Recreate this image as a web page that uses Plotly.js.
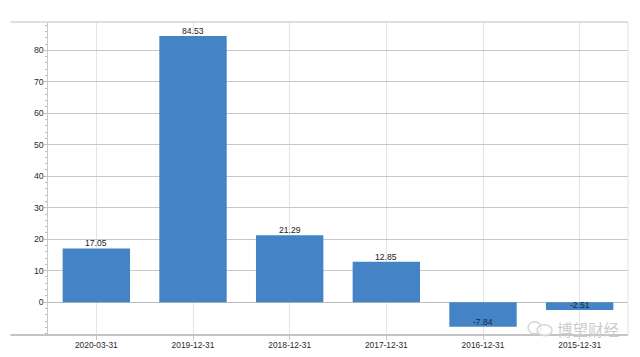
<!DOCTYPE html>
<html><head><meta charset="utf-8">
<script src="https://cdn.plot.ly/plotly-3.0.1.min.js"></script>
<style>html,body{margin:0;padding:0;background:#fff;overflow:hidden}</style></head>
<body><div id="c" style="width:640px;height:357px"></div>
<script>
const categories=['2020-03-31','2019-12-31','2018-12-31','2017-12-31','2016-12-31','2015-12-31'];
const values=[17.05,84.53,21.29,12.85,-7.84,-2.51];
const labels=['17.05','84.53','21.29','12.85','-7.84','-2.51'];
const yTicks=[0,10,20,30,40,50,60,70,80];
const W=640,H=357,L=47.6,R=628,T=22,B=335.3;
const px=x=>(x-L)/(R-L), py=y=>(B-y)/(B-T);
const FONT='Liberation Sans, Arial, sans-serif';
const shapes=[
 {type:'line',xref:'paper',yref:'paper',x0:px(10),x1:1,y0:1,y1:1,line:{color:'#d4d4d4',width:1.5}},
 {type:'line',xref:'paper',yref:'paper',x0:px(10),x1:1,y0:0,y1:0,line:{color:'#c4c4c4',width:2}},
 {type:'line',xref:'paper',yref:'paper',x0:1,x1:1,y0:0,y1:1,line:{color:'#e2e2e2',width:1}},
 {type:'circle',xref:'paper',yref:'paper',x0:px(528),x1:px(541),y0:py(334),y1:py(322),line:{color:'#d6d6d6',width:1.5},fillcolor:'rgba(255,255,255,0.6)'},
 {type:'circle',xref:'paper',yref:'paper',x0:px(537),x1:px(552),y0:py(336),y1:py(325),line:{color:'#d6d6d6',width:1.5},fillcolor:'rgba(255,255,255,0.6)'}
];
const valueNotes=categories.map((c,i)=>({xref:'x',yref:'y',x:c,y:values[i],text:labels[i],showarrow:false,
 xanchor:'center',yanchor:'bottom',yshift:-1,borderpad:0,
 font:{family:FONT,size:8.6,color:values[i]<0?'#14273f':'#222'}}));
Plotly.newPlot('c',[{
 type:'bar',x:categories,y:values,width:0.697,
 marker:{color:'#4484c6',line:{width:0}},hoverinfo:'skip'
}],{
 width:W,height:H,showlegend:false,
 paper_bgcolor:'#fff',plot_bgcolor:'#fff',
 margin:{l:L,r:W-R,t:T,b:H-B,pad:0},
 font:{family:FONT,size:9,color:'#333'},
 xaxis:{type:'category',categoryorder:'array',categoryarray:categories,range:[-0.5,5.5],
  showgrid:true,gridcolor:'#e4e4e4',gridwidth:1,
  ticks:'outside',ticklen:4,tickcolor:'#c8c8c8',showline:false,zeroline:false,
  tickfont:{size:8.4,color:'#2b2b2b'},ticklabelstandoff:-2},
 yaxis:{range:[-10.44,89],tickmode:'array',tickvals:yTicks,showgrid:true,gridcolor:'#c8c8c8',gridwidth:1,
  ticks:'outside',ticklen:3,tickcolor:'#bdbdbd',ticklabelstandoff:-2,
  showline:true,linecolor:'#c8c8c8',linewidth:1.5,zeroline:true,zerolinecolor:'#bdbdbd',zerolinewidth:1,
  minor:{dtick:2,tick0:0,ticks:'outside',ticklen:2,tickcolor:'#bdbdbd',showgrid:false},
  tickfont:{size:8.8,color:'#2b2b2b'}},
 shapes:shapes,
 annotations:valueNotes.concat([{xref:'paper',yref:'paper',x:px(587.5),y:py(329),xanchor:'center',yanchor:'middle',text:'博望财经',showarrow:false,
  font:{family:'Noto Sans CJK SC',size:15.5,color:'#cccccc'},borderpad:0}])
},{displayModeBar:false,staticPlot:true});
</script></body></html>
